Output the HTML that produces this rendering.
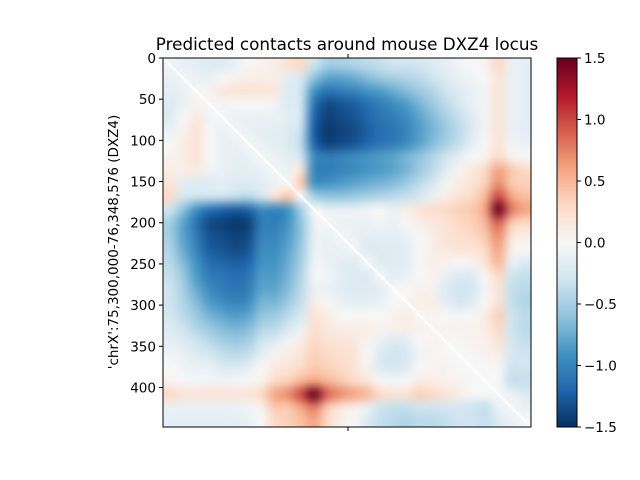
<!DOCTYPE html>
<html><head><meta charset="utf-8"><style>
body{margin:0;background:#fff;}
#wrap{position:relative;width:640px;height:480px;font-family:"DejaVu Sans","Liberation Sans",sans-serif;}
canvas{position:absolute;}
svg{position:absolute;left:0;top:0;}
</style></head><body>
<div id="wrap">
<canvas id="hm" width="368" height="369" style="left:163px;top:58px"></canvas>
<canvas id="cb" width="20" height="369" style="left:557px;top:58px"></canvas>
<svg id="ov" width="640" height="480">
<text x="347" y="50" font-size="16.8" text-anchor="middle">Predicted contacts around mouse DXZ4 locus</text>
<text transform="translate(118,242) rotate(-90)" font-size="13.5" text-anchor="middle">'chrX':75,300,000-76,348,576 (DXZ4)</text>
</svg>
</div>
<script>
// upper triangle (row r, cols r..27) of symmetric 28x28 coarse contact matrix
const upperRows = [
[-0.05,-0.1,-0.15,-0.2,-0.2,-0.1,0,0.05,0.1,0.2,0.3,-0.3,-0.5,-0.5,-0.45,-0.4,-0.35,-0.3,-0.3,-0.25,-0.2,-0.15,-0.05,0,0.05,0.3,-0.1,-0.15],
[-0.05,-0.1,-0.1,0,0.05,0.1,0.1,0.1,-0.15,-0.25,-0.6,-0.8,-0.8,-0.75,-0.65,-0.55,-0.5,-0.45,-0.4,-0.3,-0.2,-0.1,-0.05,0,0.2,-0.1,-0.15],
[0,0.05,0.15,0.2,0.2,0.2,0.15,-0.2,-0.3,-0.9,-1.1,-1.05,-1.0,-0.9,-0.85,-0.75,-0.65,-0.55,-0.45,-0.3,-0.2,-0.1,-0.05,0.2,-0.1,-0.15],
[0,-0.05,0,0,0,-0.05,-0.2,-0.3,-1.1,-1.35,-1.3,-1.25,-1.15,-1.05,-0.95,-0.85,-0.7,-0.55,-0.4,-0.25,-0.1,-0.05,0.2,-0.1,-0.15],
[0,-0.1,-0.1,-0.1,-0.1,-0.15,-0.3,-1.2,-1.4,-1.35,-1.3,-1.2,-1.1,-1.05,-0.95,-0.8,-0.65,-0.5,-0.35,-0.2,-0.05,0.2,-0.1,-0.15],
[0,-0.1,-0.15,-0.15,-0.2,-0.35,-1.25,-1.45,-1.4,-1.35,-1.25,-1.15,-1.1,-1.0,-0.85,-0.7,-0.55,-0.4,-0.2,-0.05,0.2,-0.1,-0.15],
[0,-0.1,-0.15,-0.2,-0.4,-1.2,-1.4,-1.35,-1.3,-1.2,-1.1,-1.05,-0.95,-0.8,-0.65,-0.5,-0.35,-0.15,0,0.2,-0.05,-0.1],
[0,-0.1,-0.15,-0.3,-0.95,-1.05,-1.0,-0.95,-0.9,-0.85,-0.8,-0.7,-0.6,-0.45,-0.3,-0.15,0,0.05,0.3,0.05,0],
[0,-0.1,0.2,-1.0,-1.05,-1.0,-0.95,-0.9,-0.85,-0.8,-0.7,-0.55,-0.4,-0.2,0.05,0.15,0.3,0.6,0.4,0.3],
[0,0.4,-0.9,-0.9,-0.85,-0.8,-0.75,-0.7,-0.65,-0.55,-0.4,-0.25,-0.05,0.1,0.2,0.35,0.7,0.4,0.35],
[0,-0.5,-0.6,-0.6,-0.55,-0.5,-0.45,-0.4,-0.35,-0.25,-0.1,0.1,0.2,0.3,0.5,1.0,0.6,0.45],
[0,-0.1,-0.1,-0.1,-0.05,0,-0.1,0.1,0.2,0.25,0.3,0.35,0.4,0.6,1.5,0.8,0.6],
[0,-0.1,-0.1,-0.1,-0.05,-0.1,0,0.1,0.15,0.2,0.3,0.35,0.5,0.9,0.4,0.3],
[0,-0.1,-0.15,-0.15,-0.15,-0.1,0,0.1,0.2,0.25,0.3,0.4,0.7,0.2,0.1],
[0,-0.2,-0.2,-0.2,-0.15,0,0.1,0.15,0.2,0.2,0.3,0.6,0.1,0],
[0,-0.2,-0.2,-0.15,0,0.1,0.05,0,0.05,0.2,0.5,-0.1,-0.2],
[0,-0.15,-0.1,0,0.05,-0.1,-0.2,-0.2,0,0.3,-0.3,-0.35],
[0,0,0.05,0.05,-0.2,-0.3,-0.25,-0.05,0.2,-0.35,-0.4],
[0,0.1,0.1,-0.15,-0.25,-0.2,0,0.2,-0.35,-0.45],
[0,0.05,0,-0.05,0,0.1,0.35,-0.3,-0.4],
[0,0.05,0.05,0.05,0.1,0.3,-0.3,-0.4],
[0,0,0.05,0.05,0.2,-0.25,-0.35],
[0,0,0.05,0.1,-0.25,-0.3],
[0,0,0,-0.3,-0.3],
[0,0,-0.35,-0.35],
[0,-0.1,-0.2],
[0,-0.1],
[0]
];
const yTickValues = [0,50,100,150,200,250,300,350,400];
const cbTickValues = [1.5,1.0,0.5,0.0,-0.5,-1.0,-1.5];
const cbTickLabels = ["1.5","1.0","0.5","0.0","\u22120.5","\u22121.0","\u22121.5"];
const vmin=-1.5, vmax=1.5, nBins=448;

const N = upperRows.length;
const M = [];
for (let r=0;r<N;r++){M.push(new Array(N).fill(0));}
for (let r=0;r<N;r++){for(let k=0;k<upperRows[r].length;k++){const c=r+k;M[r][c]=upperRows[r][k];M[c][r]=upperRows[r][k];}}

const stops=[[5,48,97],[33,102,172],[67,147,195],[146,197,222],[209,229,240],[247,247,247],[253,219,199],[244,165,130],[214,96,77],[178,24,43],[103,0,31]];
function cmap(v){let t=(v-vmin)/(vmax-vmin);t=Math.max(0,Math.min(1,t))*10;const i=Math.min(9,Math.floor(t)),f=t-i;
return stops[i].map((a,j)=>Math.round(a+(stops[i+1][j]-a)*f));}

const small=document.createElement('canvas');small.width=N;small.height=N;
const sc=small.getContext('2d');const img=sc.createImageData(N,N);
for(let r=0;r<N;r++)for(let c=0;c<N;c++){const col=cmap(M[r][c]);const o=(r*N+c)*4;img.data[o]=col[0];img.data[o+1]=col[1];img.data[o+2]=col[2];img.data[o+3]=255;}
sc.putImageData(img,0,0);
const hm=document.getElementById('hm').getContext('2d');
hm.imageSmoothingEnabled=true;hm.imageSmoothingQuality='high';
hm.drawImage(small,0,0,368,369);
hm.strokeStyle='#fff';hm.lineWidth=2;hm.beginPath();hm.moveTo(0,0);hm.lineTo(368,369);hm.stroke();

const cb=document.getElementById('cb').getContext('2d');
for(let y=0;y<369;y++){const v=vmax-(y+0.5)/369*(vmax-vmin);const c=cmap(v);cb.fillStyle=`rgb(${c[0]},${c[1]},${c[2]})`;cb.fillRect(0,y,20,1);}

const ns='http://www.w3.org/2000/svg';const svg=document.getElementById('ov');
function mk(tag,attrs){const e=document.createElementNS(ns,tag);for(const k in attrs)e.setAttribute(k,attrs[k]);svg.appendChild(e);return e;}
const yScale=v=>58+v/nBins*369;
const cbScale=v=>58+(vmax-v)/(vmax-vmin)*369;
let e=mk('rect',{x:163,y:58,width:368,height:369,fill:'none',stroke:'#000','stroke-width':1});


e=mk('rect',{x:557,y:58,width:20,height:369,fill:'none',stroke:'#000','stroke-width':1});


yTickValues.forEach(v=>{const y=yScale(v);
 const t=mk('line',{x1:159,x2:163,y1:y,y2:y,stroke:'#000'});
 
 
 const l=mk('text',{x:156,y:y+5,'font-size':13.5,'text-anchor':'end'});l.textContent=String(v);
 
 
});
[[54,58],[427,431]].forEach(p=>{const t=mk('line',{x1:348,x2:348,y1:p[0],y2:p[1],stroke:'#000'});
 
 });
cbTickValues.forEach((v,i)=>{const y=cbScale(v);
 const t=mk('line',{x1:577,x2:581,y1:y,y2:y,stroke:'#000'});
 
 
 const l=mk('text',{x:584,y:y+5,'font-size':13.5});l.textContent=cbTickLabels[i];
 
 
});
</script>
</body></html>
